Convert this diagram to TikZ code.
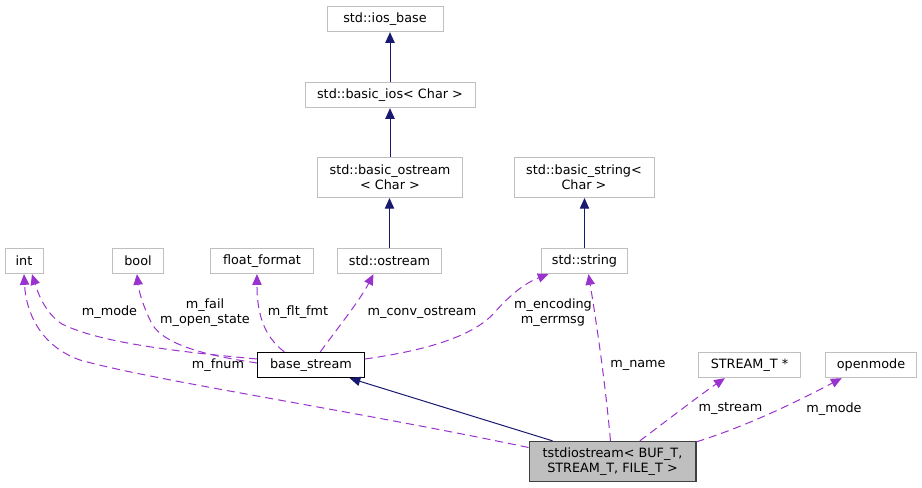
\documentclass[tikz,border=0pt]{standalone}
\usepackage{fontspec}
\setmainfont{DejaVu Sans}
\usetikzlibrary{arrows.meta}
\definecolor{edgegrey}{HTML}{BFBFBF}
\definecolor{inhblue}{HTML}{191970}
\definecolor{usepurple}{HTML}{9A32CD}
\definecolor{tdfill}{HTML}{BFBFBF}
\definecolor{tdborder}{HTML}{404040}
\begin{document}
\begin{tikzpicture}[x=0.75pt,y=-0.75pt,
  every node/.style={font=\fontsize{9.6pt}{11.5pt}\selectfont, inner sep=0pt, align=center},
  cls/.style={draw=edgegrey, fill=white, line width=0.75pt, minimum height=19pt},
  cls2/.style={draw=edgegrey, fill=white, line width=0.75pt, minimum height=30pt},
  inh/.style={draw=inhblue, line width=0.75pt, -{Triangle[length=8pt,width=7pt]}},
  usage/.style={draw=usepurple, line width=0.75pt, dash pattern=on 6pt off 3.75pt, -{Triangle[length=8pt,width=7pt]}},
  lbl/.style={text=black}]
\useasboundingbox (0,0) rectangle (922,488);

% nodes
\node[cls, minimum width=87pt] (iosb) at (385,19) {std::ios\_base};
\node[cls, minimum width=127.5pt] (bios) at (390,95) {std::basic\_ios< Char >};
\node[cls2, minimum width=109pt] (bost) at (390,177.5) {std::basic\_ostream\\< Char >};
\node[cls2, minimum width=105pt] (bstr) at (584,177.5) {std::basic\_string<\\Char >};
\node[cls, minimum width=78pt] (ostr) at (389.5,261) {std::ostream};
\node[cls, minimum width=28.5pt] (int) at (24,261) {int};
\node[cls, minimum width=38pt] (bool) at (138,261) {bool};
\node[cls, minimum width=77pt] (ff) at (262,261) {float\_format};
\node[cls, minimum width=65pt] (str) at (584.5,261) {std::string};
\node[draw=black, fill=white, line width=0.75pt, minimum height=19pt, minimum width=80pt] (bs) at (311,365) {base\_stream};
\node[cls, minimum width=77pt] (st) at (749.5,365) {STREAM\_T *};
\node[cls, minimum width=68pt] (om) at (871,365) {openmode};
\node[draw=tdborder, fill=tdfill, line width=1pt, minimum height=30pt, minimum width=125pt] (td) at (612.5,461.5) {tstdiostream< BUF\_T,\\STREAM\_T, FILE\_T >};

% inheritance
\draw[inh] (bios.north) -- (bios.north |- iosb.south);
\draw[inh] (bost.north) -- (bost.north |- bios.south);
\draw[inh] (ostr.north) -- (ostr.north |- bost.south);
\draw[inh] (str.north) -- (str.north |- bstr.south);
\draw[inh] ([xshift=-45pt]td.north) -- ([xshift=29pt]bs.south);

% usage edges
\draw[usage] ([shift={(0,-6)}]bs.west) .. controls (180,352) and (100,343) .. (62,324)
   .. controls (45,313) and (38,293) .. ([xshift=6pt]int.south);
\draw[usage] ([shift={(0,-2)}]bs.west) .. controls (210,356) and (165,346) .. (152,324)
   .. controls (143,306) and (139,292) .. ([xshift=-0.8pt]bool.south);
\draw[usage] ([shift={(0,-14)}]td.west) .. controls (350,410) and (150,380) .. (80,360)
   .. controls (40,346) and (26,312) .. (int.south);
\draw[usage] ([xshift=-20pt]bs.north) .. controls (262,335) and (257,310) .. ([xshift=-3.8pt]ff.south);
\draw[usage] ([xshift=7pt]bs.north) .. controls (340,325) and (360,300) .. ([xshift=-12pt]ostr.south);
\draw[usage] ([shift={(0,-6)}]bs.east) .. controls (430,350) and (475,335) .. (495,312)
   .. controls (510,295) and (525,283) .. ([xshift=-27pt]str.south);
\draw[usage] ([xshift=-1.5pt]td.north) .. controls (605,380) and (596,320) .. ([xshift=3pt]str.south);
\draw[usage] ([xshift=20.5pt]td.north) .. controls (665,422) and (700,395) .. ([xshift=-18.5pt]st.south);
\draw[usage] ([shift={(0,1)}]td.north east) .. controls (750,425) and (800,400) .. ([xshift=-22pt]om.south);

% labels
\node[lbl] (l1) at (109.5,312.5) {m\_mode};
\node[lbl] (l2) at (205,312.5) {m\_fail\\m\_open\_state};
\node[lbl] (l3) at (298,312.5) {m\_flt\_fmt};
\node[lbl] (l4) at (422,312.5) {m\_conv\_ostream};
\node[lbl] (l5) at (553,312.5) {m\_encoding\\m\_errmsg};
\node[lbl] (l6) at (218,365) {m\_fnum};
\node[lbl] (l7) at (638,365) {m\_name};
\node[lbl] (l8) at (730.5,409) {m\_stream};
\node[lbl] (l9) at (834,409) {m\_mode};
\end{tikzpicture}
\end{document}
